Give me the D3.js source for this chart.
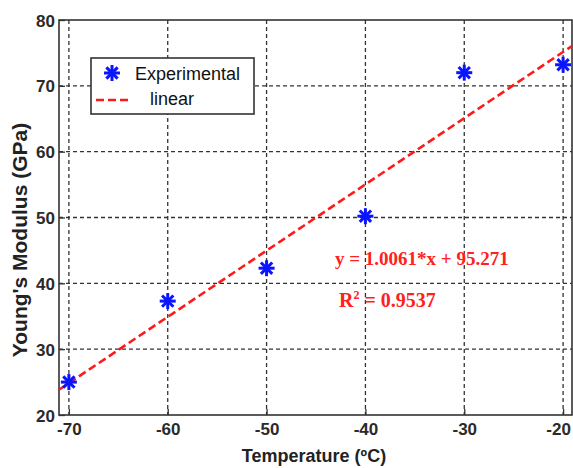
<!DOCTYPE html>
<html>
<head>
<meta charset="utf-8">
<script src="https://cdn.jsdelivr.net/npm/d3@7"></script>
<style>
  body { margin: 0; background: #fff; }
</style>
</head>
<body>
<svg id="chart"></svg>
<script>
const W = 573
const H = 468
const margins = { top: 20, bottom: 53, left: 59, right: 1 }
const w = W - margins.left - margins.right
const h = H - margins.top - margins.bottom

// data
const temps = [-70, -60, -50, -40, -30, -20]
const modulus = [25.0, 37.3, 42.3, 50.2, 72.0, 73.2]
const xTicks = [-70, -60, -50, -40, -30, -20]
const yTicks = [20, 30, 40, 50, 60, 70, 80]
const slope = 1.0061
const intercept = 95.271
const rSquared = '0.9537'

const sans = '"Liberation Sans", Arial, sans-serif'
const serif = '"Liberation Serif", "Times New Roman", serif'

const svg = d3.select('svg#chart').attr('width', W).attr('height', H)
  .style('font-family', sans)
const inner = svg.append('g')
  .attr('transform', 'translate(' + margins.left + ',' + margins.top + ')')

const xScale = d3.scaleLinear().domain([-71, -19.1]).range([0, w])
const yScale = d3.scaleLinear().domain([20, 80]).range([h, 0])

// grid
inner.append('g').selectAll('line')
  .data(xTicks)
  .join('line')
  .attr('x1', d => xScale(d)).attr('x2', d => xScale(d))
  .attr('y1', 0).attr('y2', h)
  .attr('stroke', '#333').attr('stroke-width', 1.3)
  .attr('stroke-dasharray', '4,3')

inner.append('g').selectAll('line')
  .data(yTicks.slice(1, -1))
  .join('line')
  .attr('x1', 0).attr('x2', w)
  .attr('y1', d => yScale(d)).attr('y2', d => yScale(d))
  .attr('stroke', '#333').attr('stroke-width', 1.3)
  .attr('stroke-dasharray', '4,3')

// axes (plain hyphen for negatives, like the original)
const xAxis = d3.axisBottom(xScale).tickValues(xTicks).tickSize(-6).tickPadding(8).tickFormat(d => String(d))
const yAxis = d3.axisLeft(yScale).tickValues(yTicks).tickSize(-6).tickPadding(4)

const gx = inner.append('g').attr('transform', 'translate(0,' + h + ')').call(xAxis)
const gy = inner.append('g').call(yAxis)
;[gx, gy].forEach(g => {
  g.select('.domain').remove()
  g.selectAll('line').attr('stroke', '#333').attr('stroke-width', 1.3)
  g.selectAll('text')
    .attr('fill', '#2a2a2a')
    .style('font-family', sans)
    .style('font-size', '17px')
    .style('font-weight', 'bold')
})
gx.selectAll('text').attr('dy', '0.71em')
// keep the last label inside the window
gx.selectAll('.tick').filter(d => d === -20).select('text').attr('dx', -5)
gy.selectAll('text').attr('dy', '0.36em')

// frame
inner.append('rect')
  .attr('width', w).attr('height', h)
  .attr('fill', 'none').attr('stroke', '#333').attr('stroke-width', 1.6)

// fit line
const fit = d3.line().x(d => xScale(d)).y(d => yScale(slope * d + intercept))
inner.append('path')
  .datum(xScale.domain())
  .attr('d', fit)
  .attr('fill', 'none')
  .attr('stroke', '#ff1a1a')
  .attr('stroke-width', 2.6)
  .attr('stroke-dasharray', '8,4')

// asterisk markers
function star(g, r) {
  const a = r * Math.SQRT1_2
  g.append('line').attr('x1', -r).attr('x2', r).attr('y1', 0).attr('y2', 0)
  g.append('line').attr('x1', 0).attr('x2', 0).attr('y1', -r).attr('y2', r)
  g.append('line').attr('x1', -a).attr('x2', a).attr('y1', -a).attr('y2', a)
  g.append('line').attr('x1', -a).attr('x2', a).attr('y1', a).attr('y2', -a)
  g.selectAll('line').attr('stroke', '#0a14ff').attr('stroke-width', 3)
}

inner.append('g').selectAll('g')
  .data(temps.map((t, i) => [t, modulus[i]]))
  .join('g')
  .attr('transform', d => 'translate(' + xScale(d[0]) + ',' + yScale(d[1]) + ')')
  .each(function () { star(d3.select(this), 8) })

// legend
const legend = svg.append('g').attr('transform', 'translate(91,58)')
legend.append('rect')
  .attr('width', 163).attr('height', 56)
  .attr('fill', '#fff').attr('stroke', '#333').attr('stroke-width', 1.6)
star(legend.append('g').attr('transform', 'translate(21,15)'), 8)
legend.append('text').attr('x', 44).attr('y', 22)
  .style('font-size', '18px').attr('fill', '#111').text('Experimental')
legend.append('line').attr('x1', 5).attr('x2', 41).attr('y1', 42).attr('y2', 42)
  .attr('stroke', '#ff1a1a').attr('stroke-width', 2.6).attr('stroke-dasharray', '8,4')
legend.append('text').attr('x', 59).attr('y', 47)
  .style('font-size', '18px').attr('fill', '#111').text('linear')

// equation
const eq = svg.append('g').attr('fill', '#ff2020')
eq.append('text').attr('x', 335).attr('y', 265)
  .style('font-family', serif).style('font-weight', 'bold').style('font-size', '19px')
  .text('y = ' + slope + '*x + ' + intercept)
const r2 = eq.append('text').attr('x', 339).attr('y', 307)
  .style('font-family', serif).style('font-weight', 'bold').style('font-size', '20px')
r2.append('tspan').text('R')
r2.append('tspan').attr('dy', -8).style('font-size', '12px').text('2')
r2.append('tspan').attr('dy', 8).text(' = ' + rSquared)

// axis labels
svg.append('text')
  .attr('x', 314).attr('y', 462)
  .attr('text-anchor', 'middle')
  .style('font-size', '18px').style('font-weight', 'bold').attr('fill', '#222')
  .text('Temperature (ºC)')

svg.append('text')
  .attr('transform', 'translate(27,240) rotate(-90)')
  .attr('text-anchor', 'middle')
  .style('font-size', '21px').style('font-weight', 'bold').attr('fill', '#222')
  .text("Young's Modulus (GPa)")
</script>
</body>
</html>
